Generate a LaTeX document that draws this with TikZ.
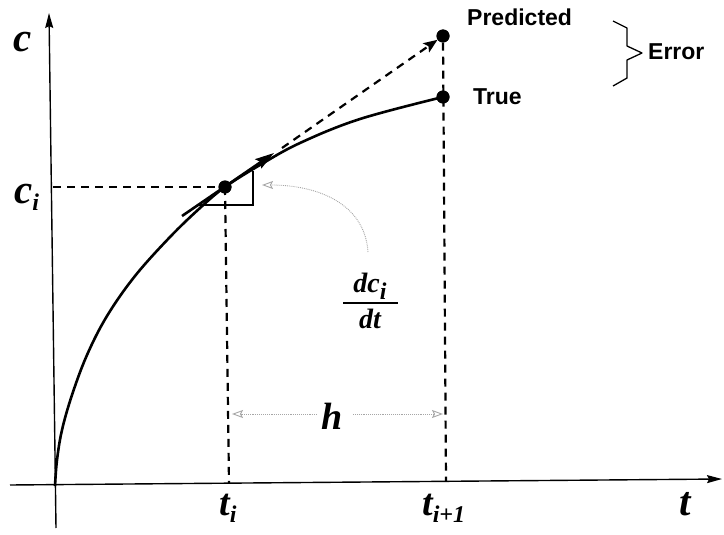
\documentclass[tikz,border=0pt]{standalone}
\usepackage{fontspec}
\setmainfont{Liberation Serif}
\newfontfamily\arial{Liberation Sans}
\usetikzlibrary{arrows.meta}
\newcommand{\subsc}[1]{\raisebox{-7pt}{\fontsize{24}{24}\selectfont\bfseries\itshape #1}}
\tikzset{
  axisline/.style={line width=1.4pt, -{Stealth[length=15pt,width=8pt,inset=2pt]}},
  dashline/.style={line width=2.2pt, dash pattern=on 8pt off 6pt},
  dot/.style={circle, fill=black, inner sep=0pt, minimum size=13pt},
  biglabel/.style={font=\fontsize{41}{41}\selectfont\bfseries\itshape, inner sep=0pt, anchor=base west},
  sanslabel/.style={font=\arial\fontsize{23}{23}\selectfont\bfseries, inner sep=0pt, anchor=base west},
  grayarrow/.style={gray!70, line width=0.9pt, densely dotted, -{Stealth[open,length=11pt,width=8pt,inset=2pt]}},
  thickline/.style={line width=2.6pt}
}
\begin{document}
\begin{tikzpicture}[x=1pt,y=-1pt]
\useasboundingbox (0,0) rectangle (724,535);
% axes
\coordinate (ybot) at (56,528);
\coordinate (ytop) at (49,13);
\coordinate (xleft) at (10,485);
\coordinate (xright) at (722,479);
\draw[axisline] (ybot) -- (ytop);
\draw[axisline] (xleft) -- (xright);
% points
\node[dot] (ci) at (225,187) {};
\node[dot] (P) at (443,36) {};
\node[dot] (T) at (443,97) {};
% dashed guide lines
\coordinate (cax) at (53,187);
\coordinate (tibase) at (229,483);
\coordinate (pbase) at (446,481);
\draw[dashline] (cax) -- (ci.center);
\draw[dashline] (ci.center) -- (tibase);
\draw[dashline] (P) -- (pbase);
% curve
\draw[thickline, line join=round] plot[smooth, tension=0.6] coordinates {
 (55,486) (57,460) (62,430) (72,395) (87,355) (107,316) (135,276) (170,237) (200,208) (225,187) (260,165) (300,143) (360,119) (443,97)};
% slope triangle
\coordinate (sa) at (197,205);
\coordinate (sb) at (253,205);
\coordinate (sc) at (253,171);
\draw[line width=2pt] (sa) -- (sb) -- (sc);
% tangent
\coordinate (tstart) at (182,216);
\coordinate (ttip) at (274,153);
\draw[thickline, -{Stealth[length=19pt,width=11pt,inset=3pt]}] (tstart) -- (ttip);
\coordinate (tdash) at (282,148);
\draw[dashline, -{Stealth[length=14pt,width=11pt,inset=3pt]}] (tdash) -- (P);
% redraw dots on top
\node[dot] at (ci.center) {};
\node[dot] at (P.center) {};
\node[dot] at (T.center) {};
% labels
\node[biglabel] (lc) at (13,52) {c};
\node[biglabel] (lci) at (14,203) {c\subsc{i}};
\node[biglabel] (lt) at (679,515) {t};
\node[biglabel, font=\fontsize{38}{38}\selectfont\bfseries\itshape] (lti) at (219,515) {t\subsc{i}};
\node[biglabel, font=\fontsize{38}{38}\selectfont\bfseries\itshape] (lti1) at (422,515) {t\subsc{i+1}};
\node[biglabel, font=\fontsize{38}{38}\selectfont\bfseries\itshape, anchor=base] (lh) at (332,429) {h};
\node[sanslabel] (lP) at (467,26) {Predicted};
\node[sanslabel] (lT) at (473,105) {True};
\node[sanslabel] (lE) at (648,60) {Error};
% brace
\draw[line width=1.3pt, line join=round] (613,21) -- (627,28) -- (627,46) -- (642,53) -- (627,60) -- (627,78) -- (613,86);
% derivative label
\node[font=\fontsize{28}{28}\selectfont\bfseries\itshape, inner sep=0pt, anchor=base] (ldc) at (370,292) {dc\subsc{i}};
\node[font=\fontsize{28}{28}\selectfont\bfseries\itshape, inner sep=0pt, anchor=base] (ldt) at (370,328) {dt};
\coordinate (fl) at (343,303);
\coordinate (fr) at (398,303);
\draw[line width=2pt] (fl) -- (fr);
% gray curved arrow
\coordinate (ga) at (368,252);
\coordinate (gb) at (262,185);
\draw[grayarrow] (ga) .. controls (365,205) and (320,185) .. (gb);
% h arrows
\coordinate (hl) at (317,414);
\coordinate (hlt) at (232,414);
\coordinate (hr) at (353,414);
\coordinate (hrt) at (443,414);
\draw[grayarrow] (hl) -- (hlt);
\draw[grayarrow] (hr) -- (hrt);
\end{tikzpicture}
\end{document}
